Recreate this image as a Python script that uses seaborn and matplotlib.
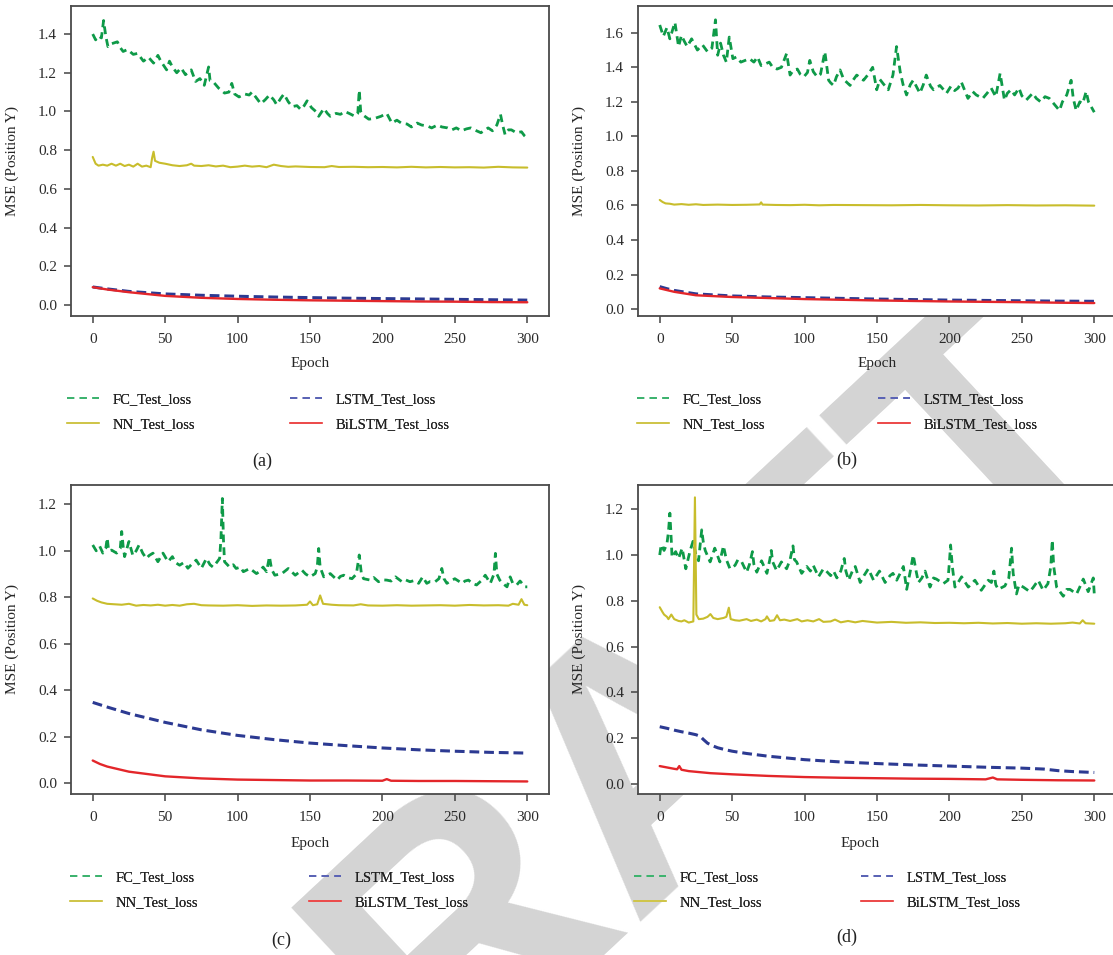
import seaborn as sns
import matplotlib.pyplot as plt
from matplotlib.lines import Line2D
from matplotlib.ticker import MultipleLocator

# ---- data: (epoch, MSE) ----
fc_a = [(0, 1.40), (2, 1.37), (4, 1.39), (6, 1.38), (7.5, 1.47), (9, 1.39), (10.5, 1.335), (13, 1.35),
        (17, 1.36), (19, 1.33), (21, 1.31), (24, 1.32), (28, 1.295), (31, 1.30), (35, 1.26), (38.5, 1.28),
        (42, 1.25), (45, 1.29), (47, 1.26), (51, 1.215), (53, 1.26), (55, 1.23), (58, 1.20), (61, 1.225),
        (64, 1.19), (68, 1.215), (71, 1.155), (74, 1.17), (77, 1.135), (80, 1.23), (81, 1.16), (83, 1.155),
        (87, 1.12), (91, 1.095), (94, 1.10), (96, 1.145), (98, 1.09), (101, 1.075), (105, 1.09), (108, 1.085),
        (110, 1.10), (113, 1.07), (116, 1.04), (119, 1.06), (122, 1.085), (125, 1.06), (127, 1.035),
        (130, 1.07), (132, 1.09), (135, 1.05), (137.7, 1.025), (141, 1.03), (143.6, 1.01), (146, 1.03),
        (148, 1.055), (151, 1.02), (154, 1.00), (156, 0.975), (159.6, 1.015), (162, 0.99), (164, 0.975),
        (168, 0.99), (171, 0.985), (174, 1.00), (177, 0.99), (181, 0.975), (183, 0.99), (184, 1.11),
        (185, 1.00), (186, 0.985), (190.6, 0.96), (195, 0.965), (199, 0.975), (203, 0.99), (206.5, 0.94),
        (210, 0.955), (213, 0.94), (217, 0.935), (220, 0.92), (224, 0.94), (227, 0.93), (231, 0.925),
        (234, 0.915), (238, 0.93), (241, 0.92), (245, 0.915), (248, 0.905), (251, 0.915), (254.6, 0.90),
        (258, 0.91), (261, 0.915), (265, 0.90), (268, 0.89), (273, 0.915), (276, 0.90), (279, 0.93),
        (281.5, 0.985), (283, 0.93), (284.7, 0.88), (287, 0.905), (289, 0.905), (292.5, 0.89), (296, 0.895),
        (298, 0.875), (300, 0.862)]
nn_a = [(0, 0.765), (2, 0.73), (4, 0.72), (7, 0.725), (10, 0.72), (13, 0.73), (16, 0.72), (19, 0.73),
        (22, 0.718), (25, 0.725), (28, 0.715), (31, 0.73), (34, 0.715), (37, 0.72), (40, 0.712), (41, 0.76),
        (42, 0.792), (43, 0.745), (46, 0.735), (50, 0.73), (55, 0.722), (60, 0.718), (65, 0.722), (68, 0.73),
        (70, 0.72), (75, 0.718), (80, 0.722), (85, 0.716), (90, 0.72), (95, 0.712), (100, 0.715), (105, 0.72),
        (110, 0.715), (115, 0.718), (120, 0.712), (125, 0.725), (130, 0.718), (135, 0.714), (140, 0.716),
        (150, 0.713), (160, 0.712), (165, 0.718), (170, 0.713), (180, 0.714), (190, 0.712), (200, 0.713),
        (210, 0.711), (220, 0.714), (230, 0.711), (240, 0.713), (250, 0.711), (260, 0.712), (270, 0.71),
        (280, 0.714), (290, 0.711), (300, 0.71)]
lstm_a = [(0, 0.093), (10, 0.083), (25, 0.07), (50, 0.057), (75, 0.05), (100, 0.045), (125, 0.041),
          (150, 0.038), (175, 0.035), (200, 0.033), (225, 0.031), (250, 0.029), (275, 0.027), (300, 0.025)]
bilstm_a = [(0, 0.092), (10, 0.08), (25, 0.066), (50, 0.047), (75, 0.037), (100, 0.031), (125, 0.027),
            (150, 0.024), (175, 0.022), (200, 0.02), (225, 0.018), (250, 0.017), (275, 0.015), (300, 0.014)]

fc_b = [(0, 1.645), (2.5, 1.58), (5, 1.63), (7, 1.565), (9, 1.62), (10.5, 1.66), (13, 1.52), (15, 1.585),
        (17, 1.55), (19, 1.52), (22, 1.565), (26, 1.50), (29.5, 1.53), (33, 1.49), (36, 1.51), (38.5, 1.675),
        (40, 1.47), (42, 1.54), (44, 1.47), (46, 1.43), (48, 1.575), (50.5, 1.45), (53, 1.46), (56, 1.43),
        (59, 1.44), (62, 1.45), (65, 1.43), (67.5, 1.46), (70, 1.41), (73, 1.42), (75.6, 1.43), (78, 1.40),
        (81, 1.39), (84, 1.40), (87.6, 1.48), (90, 1.355), (92, 1.38), (95, 1.39), (97, 1.36), (99.5, 1.345),
        (102, 1.37), (103.6, 1.44), (106, 1.375), (108.7, 1.345), (111, 1.36), (114, 1.49), (116.6, 1.325),
        (118, 1.31), (120, 1.295), (122, 1.345), (124.5, 1.385), (127, 1.33), (131.4, 1.295), (133, 1.32),
        (136, 1.355), (140.7, 1.325), (144, 1.36), (147, 1.40), (149.8, 1.27), (152, 1.33), (154.3, 1.305),
        (157.8, 1.27), (161, 1.355), (163.5, 1.52), (166, 1.375), (168, 1.30), (170.4, 1.24), (173, 1.30),
        (175, 1.325), (179.6, 1.25), (182, 1.30), (184, 1.355), (187, 1.29), (189, 1.27), (193.4, 1.295),
        (196, 1.27), (198, 1.25), (201, 1.29), (203.6, 1.265), (206, 1.28), (208.2, 1.315), (212.8, 1.22),
        (216, 1.26), (218.5, 1.24), (223, 1.22), (226, 1.25), (228.8, 1.28), (232, 1.23), (235, 1.365),
        (238, 1.21), (240, 1.25), (242.5, 1.27), (245, 1.24), (248, 1.28), (250, 1.235), (253, 1.21),
        (257.5, 1.25), (260, 1.22), (263, 1.20), (266, 1.23), (269, 1.22), (272, 1.19), (276, 1.15),
        (278, 1.20), (281, 1.24), (284, 1.325), (285.5, 1.22), (287.5, 1.15), (290, 1.20), (292, 1.19),
        (294.4, 1.26), (296, 1.20), (298, 1.17), (300, 1.14)]
nn_b = [(0, 0.632), (2, 0.62), (4, 0.612), (7, 0.61), (10, 0.605), (15, 0.608), (20, 0.604), (25, 0.607),
        (30, 0.603), (40, 0.605), (50, 0.603), (60, 0.604), (69, 0.606), (70, 0.618), (71, 0.605),
        (80, 0.603), (90, 0.602), (100, 0.604), (110, 0.601), (120, 0.603), (140, 0.602), (160, 0.601),
        (180, 0.603), (200, 0.601), (220, 0.600), (240, 0.602), (260, 0.600), (280, 0.601), (300, 0.599)]
lstm_b = [(0, 0.13), (5, 0.118), (10, 0.108), (25, 0.088), (50, 0.076), (75, 0.07), (100, 0.066),
          (125, 0.062), (150, 0.058), (175, 0.055), (200, 0.052), (225, 0.05), (250, 0.048), (275, 0.046),
          (300, 0.045)]
bilstm_b = [(0, 0.12), (5, 0.11), (10, 0.1), (25, 0.08), (50, 0.07), (75, 0.064), (100, 0.058),
            (125, 0.054), (150, 0.05), (175, 0.047), (200, 0.044), (225, 0.042), (250, 0.04), (275, 0.037),
            (300, 0.035)]

fc_c = [(0, 1.025), (2.4, 1.00), (4.8, 1.02), (7, 0.99), (9, 1.01), (10, 1.055), (11, 1.00), (13, 1.003),
        (16.5, 0.99), (19, 1.01), (20, 1.083), (21, 1.02), (22, 0.975), (25, 1.04), (27.7, 0.98), (30, 1.00),
        (32, 1.025), (34.5, 0.99), (37, 0.967), (39, 0.98), (41.6, 0.99), (45, 0.953), (48.5, 0.99),
        (52, 0.953), (55, 0.975), (57, 0.95), (60, 0.938), (63, 0.95), (65.7, 0.925), (68, 0.94),
        (71.4, 0.96), (75, 0.925), (78.5, 0.967), (81, 0.94), (83, 0.93), (85, 0.945), (87.6, 0.967),
        (88.5, 1.05), (89.5, 1.225), (90.3, 1.04), (91, 0.953), (94.5, 0.93), (97, 0.94), (99, 0.924),
        (102, 0.93), (104, 0.91), (108.5, 0.924), (113, 0.902), (115, 0.91), (117.6, 0.93), (120, 0.91),
        (122, 0.975), (123.5, 0.92), (125.7, 0.895), (130.6, 0.902), (135, 0.924), (139.8, 0.895),
        (144.4, 0.917), (147, 0.90), (150, 0.888), (153.6, 0.902), (155, 0.93), (156, 1.01), (157, 0.93),
        (159.5, 0.888), (164, 0.902), (168.7, 0.874), (171, 0.89), (173.3, 0.895), (176, 0.885), (179, 0.88),
        (182, 0.90), (184, 0.982), (185.5, 0.90), (187, 0.88), (191.6, 0.874), (194, 0.885), (197.3, 0.867),
        (200, 0.875), (203, 0.874), (206, 0.87), (209, 0.888), (213.5, 0.867), (216, 0.875), (219, 0.867),
        (222, 0.872), (225, 0.86), (227.8, 0.888), (230.6, 0.86), (233, 0.868), (236.4, 0.867), (239, 0.88),
        (241, 0.924), (242.5, 0.88), (244.5, 0.86), (247, 0.87), (250, 0.88), (255, 0.86), (257, 0.87),
        (259.4, 0.874), (262, 0.86), (265, 0.853), (268, 0.87), (271, 0.895), (274.5, 0.86), (277, 0.9),
        (278, 0.989), (279, 0.9), (281, 0.874), (283, 0.86), (286, 0.845), (288.2, 0.888), (290, 0.86),
        (292.7, 0.853), (295, 0.87), (298.4, 0.845), (300, 0.845)]
nn_c = [(0, 0.795), (3, 0.785), (6, 0.778), (10, 0.772), (15, 0.77), (20, 0.768), (25, 0.772), (30, 0.764),
        (35, 0.767), (40, 0.765), (45, 0.768), (50, 0.764), (55, 0.767), (60, 0.764), (65, 0.77), (70, 0.772),
        (75, 0.766), (80, 0.765), (90, 0.764), (100, 0.766), (110, 0.763), (120, 0.765), (130, 0.764),
        (140, 0.765), (148, 0.768), (150, 0.782), (152, 0.766), (155, 0.77), (157, 0.808), (159, 0.772),
        (165, 0.768), (170, 0.766), (180, 0.765), (185, 0.77), (190, 0.765), (200, 0.764), (210, 0.766),
        (220, 0.764), (230, 0.765), (240, 0.766), (250, 0.764), (260, 0.767), (270, 0.765), (280, 0.766),
        (287, 0.764), (290, 0.772), (294, 0.768), (296, 0.792), (298, 0.768), (300, 0.766)]
lstm_c = [(0, 0.348), (5, 0.338), (10, 0.328), (25, 0.30), (50, 0.262), (75, 0.23), (100, 0.206),
          (125, 0.188), (150, 0.173), (175, 0.162), (200, 0.152), (225, 0.144), (250, 0.138), (275, 0.133),
          (300, 0.13)]
bilstm_c = [(0, 0.098), (5, 0.083), (10, 0.072), (25, 0.05), (50, 0.03), (75, 0.021), (100, 0.016),
            (125, 0.014), (150, 0.012), (175, 0.012), (200, 0.011), (203, 0.018), (206, 0.011), (225, 0.01),
            (250, 0.01), (275, 0.009), (300, 0.008)]

fc_d = [(0, 1.00), (1, 1.045), (3, 1.02), (5, 1.05), (6, 1.10), (7, 1.183), (8, 1.06), (8.5, 0.99),
        (11, 1.015), (13, 0.985), (15.5, 1.03), (18, 0.94), (21, 1.02), (23, 1.06), (25, 1.00), (26.8, 0.975),
        (28, 1.05), (29, 1.11), (30, 1.06), (31.4, 1.02), (34.8, 0.97), (38, 1.03), (41.5, 0.97), (44, 1.04),
        (46, 0.98), (48.5, 0.94), (52, 0.955), (54, 0.98), (56.6, 0.97), (60, 0.925), (62, 0.96), (64, 1.015),
        (65, 0.96), (67, 0.925), (70.3, 0.975), (74, 0.92), (76, 0.98), (77, 1.02), (78, 0.97), (80.7, 0.932),
        (84, 0.97), (87.6, 0.94), (90, 0.98), (92, 1.04), (93, 0.98), (94.5, 0.97), (98, 0.92), (101.5, 0.95),
        (104, 0.93), (106, 0.955), (109.6, 0.905), (113, 0.94), (115, 0.93), (118, 0.91), (120, 0.93),
        (122.3, 0.90), (125, 0.93), (127.4, 0.985), (128.5, 0.93), (130.4, 0.89), (133, 0.93), (135, 0.95),
        (138.4, 0.88), (141, 0.91), (144, 0.94), (147.6, 0.89), (151.7, 0.93), (155.6, 0.88), (159, 0.91),
        (161, 0.92), (163.6, 0.89), (166, 0.92), (168.2, 0.95), (170.5, 0.85), (173, 0.93), (175, 1.0),
        (177, 0.93), (178.6, 0.88), (181, 0.90), (183.2, 0.93), (186.6, 0.86), (189, 0.90), (191, 0.895),
        (195.8, 0.875), (199, 0.89), (200, 0.97), (200.8, 1.044), (202, 0.95), (203.8, 0.86), (206, 0.88),
        (208.4, 0.905), (213, 0.86), (217.6, 0.89), (222, 0.846), (226.8, 0.89), (229, 0.88), (230.7, 0.93),
        (232, 0.87), (233.7, 0.85), (238.3, 0.865), (241, 0.90), (242.9, 1.03), (244, 0.92), (246.3, 0.83),
        (248, 0.87), (251, 0.86), (255.5, 0.84), (258, 0.86), (261.3, 0.89), (264.7, 0.846), (268, 0.875),
        (270, 0.95), (271, 1.066), (272, 0.95), (274, 0.86), (278.6, 0.82), (281, 0.85), (283.2, 0.85),
        (287.8, 0.83), (290, 0.86), (292.4, 0.895), (295.8, 0.84), (299.3, 0.90), (300, 0.83)]
nn_d = [(0, 0.772), (2, 0.75), (3, 0.74), (5, 0.73), (6, 0.72), (8, 0.74), (10, 0.72), (13, 0.712),
        (15, 0.71), (17, 0.715), (20, 0.705), (23.2, 0.71), (24.3, 1.252), (25.3, 0.74), (27, 0.72),
        (30, 0.722), (33, 0.73), (35, 0.742), (37, 0.725), (40, 0.72), (44, 0.725), (46, 0.73), (47.7, 0.77),
        (49, 0.72), (52, 0.715), (55, 0.713), (60, 0.72), (63, 0.712), (67, 0.718), (70, 0.71), (73, 0.72),
        (74, 0.732), (76, 0.712), (79, 0.715), (81, 0.737), (83, 0.715), (86, 0.718), (90, 0.712), (95, 0.72),
        (98, 0.71), (102, 0.715), (106, 0.71), (110, 0.72), (113, 0.708), (118, 0.71), (121, 0.718),
        (125, 0.706), (130, 0.712), (135, 0.706), (140, 0.712), (150, 0.705), (160, 0.708), (170, 0.704),
        (180, 0.706), (190, 0.703), (200, 0.704), (210, 0.702), (220, 0.704), (230, 0.701), (240, 0.703),
        (250, 0.7), (260, 0.702), (270, 0.7), (280, 0.702), (285, 0.705), (290, 0.701), (292, 0.715),
        (294, 0.702), (300, 0.70)]
lstm_d = [(0, 0.25), (5, 0.243), (10, 0.235), (15, 0.228), (20, 0.222), (25, 0.215), (28, 0.208),
          (30, 0.195), (33, 0.178), (36, 0.168), (40, 0.158), (45, 0.15), (50, 0.143), (60, 0.133),
          (75, 0.121), (100, 0.106), (125, 0.096), (150, 0.089), (175, 0.083), (200, 0.078), (225, 0.073),
          (250, 0.069), (265, 0.065), (275, 0.058), (285, 0.054), (300, 0.05)]
bilstm_d = [(0, 0.078), (5, 0.072), (10, 0.066), (12, 0.064), (13.5, 0.078), (15, 0.062), (20, 0.056),
            (25, 0.053), (35, 0.047), (50, 0.042), (75, 0.035), (100, 0.03), (125, 0.027), (150, 0.025),
            (175, 0.023), (200, 0.022), (225, 0.02), (230, 0.028), (233, 0.02), (250, 0.018), (275, 0.016),
            (300, 0.015)]

series_names = ["FC_Test_loss", "NN_Test_loss", "LSTM_Test_loss", "BiLSTM_Test_loss"]
panel_labels = ["(a)", "(b)", "(c)", "(d)"]
panel_data = [[fc_a, nn_a, lstm_a, bilstm_a], [fc_b, nn_b, lstm_b, bilstm_b],
              [fc_c, nn_c, lstm_c, bilstm_c], [fc_d, nn_d, lstm_d, bilstm_d]]
panel_ylim = [(-0.057, 1.545), (-0.04, 1.755), (-0.046, 1.283), (-0.044, 1.306)]

# ---- styling ----
colors = ["#0e9a48", "#c8bd2c", "#2c3a92", "#e3262a"]
widths = [2.0, 1.5, 2.2, 1.7]
styles = [(0, (2.8, 1.8)), "-", (0, (3.2, 1.6)), "-"]
leg_colors = ["#3db36e", "#cfc54a", "#5a63b5", "#ec4b4b"]

sns.set_theme(style="ticks")
plt.rcParams["font.family"] = ["Liberation Serif", "DejaVu Serif"]
plt.rcParams["text.color"] = "#222222"

W, H = 1113, 955
fig = plt.figure(figsize=(W / 100, H / 100), dpi=100)
fig.patch.set_facecolor("white")

# watermark: drawn under the (opaque) plot areas
fig.text(630 / W, 1 - 780 / H, "DRAFT", rotation=43, fontsize=260, fontweight="bold",
         family="Liberation Sans", color="#d4d4d4", ha="center", va="center", zorder=-5)

# pixel layout: axes box (left, top, right, bottom), legend columns, label spots
boxes = [(71, 6, 549, 316), (638, 6, 1116, 316), (71, 485, 549, 794), (638, 485, 1116, 794)]
leg_x = [(67, 290), (637, 878), (70, 309), (634, 861)]
leg_y = [412, 412, 890, 890]
lab_xy = [(262, 461), (847, 460), (281, 940), (847, 937)]
xlab_pos = [(0.5, -0.133), (0.5, -0.133), (0.5, -0.138), (0.464, -0.138)]

for i in range(4):
    l, t, r, b = boxes[i]
    ax = fig.add_axes([l / W, 1 - b / H, (r - l) / W, (b - t) / H])
    ax.set_facecolor("white")
    for j, pts in enumerate(panel_data[i]):
        ep = [p[0] for p in pts]
        val = [p[1] for p in pts]
        sns.lineplot(x=ep, y=val, ax=ax, color=colors[j], linewidth=widths[j],
                     linestyle=styles[j], estimator=None, sort=False, legend=False)
    ax.set_xlim(-15, 315)
    ax.set_ylim(*panel_ylim[i])
    ax.xaxis.set_major_locator(MultipleLocator(50))
    ax.yaxis.set_major_locator(MultipleLocator(0.2))
    ax.yaxis.set_major_formatter(plt.FormatStrFormatter("%.1f"))
    for sp in ax.spines.values():
        sp.set_visible(True)
        sp.set_color("#4a4a4a")
        sp.set_linewidth(1.3)
    ax.tick_params(direction="out", length=5, width=1.1, color="#444444",
                   labelsize=11, labelcolor="#2a2a2a", pad=5)
    ax.tick_params(axis="x", pad=7)
    ax.set_xlabel("Epoch", fontsize=11)
    ax.set_ylabel("MSE (Position Y)", fontsize=11)
    ax.xaxis.set_label_coords(*xlab_pos[i])
    ax.yaxis.set_label_coords(-0.108, 0.5)

    handles = [Line2D([], [], color=leg_colors[j], lw=1.3,
                      linestyle=(0, (4.0, 3.0)) if j in (0, 2) else "-") for j in range(4)]
    for c in range(2):
        leg = fig.legend(handles[2 * c:2 * c + 2], series_names[2 * c:2 * c + 2],
                         loc="center left", bbox_to_anchor=(leg_x[i][c] / W, 1 - leg_y[i] / H),
                         frameon=False, fontsize=10.5, handlelength=2.2, handletextpad=0.9,
                         labelspacing=0.85, borderpad=0, borderaxespad=0)
        fig.add_artist(leg)
    fig.text(lab_xy[i][0] / W, 1 - lab_xy[i][1] / H, panel_labels[i], fontsize=13,
             ha="center", va="center")

fig.savefig("out.png", dpi=100)
